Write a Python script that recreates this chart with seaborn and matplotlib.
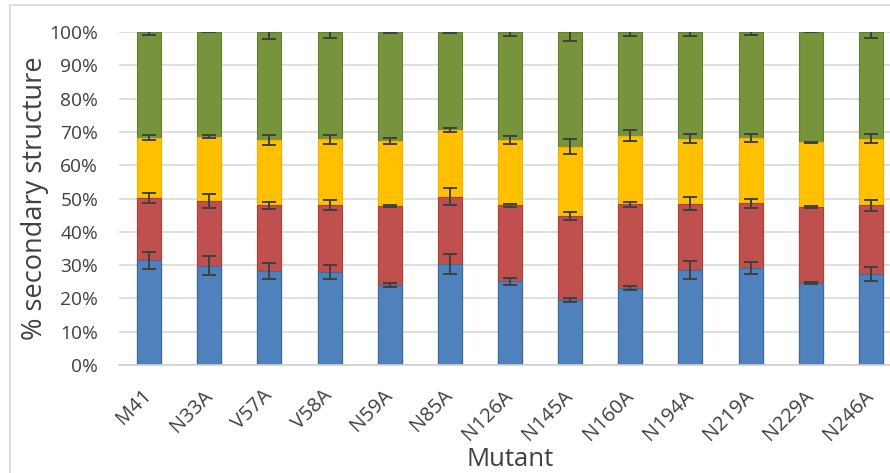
import numpy as np
import matplotlib
matplotlib.use("Agg")
import matplotlib.pyplot as plt
from matplotlib.patches import Rectangle
from matplotlib.ticker import FuncFormatter
import seaborn as sns

# Secondary structure composition per mutant (% of residues)
mutants = ["M41", "N33A", "V57A", "V58A", "N59A", "N85A", "N126A",
           "N145A", "N160A", "N194A", "N219A", "N229A", "N246A"]
helix = [31.4, 29.8, 28.1, 27.8, 23.9, 30.3, 25.1, 19.5, 23.1, 28.6, 29.2, 24.6, 27.3]
sheet = [18.7, 19.5, 19.8, 20.1, 23.7, 20.3, 22.8, 25.3, 25.1, 19.8, 19.3, 22.8, 20.6]
turn = [18.2, 19.3, 19.6, 19.9, 19.8, 19.9, 19.7, 20.8, 20.7, 19.6, 19.6, 19.5, 20.1]
coil = [31.7, 31.4, 32.5, 32.2, 32.6, 29.5, 32.4, 34.4, 31.1, 32.0, 31.9, 33.1, 32.0]

# standard deviations
helix_sd = [2.5, 2.8, 2.4, 2.1, 0.6, 3.0, 1.0, 0.5, 0.7, 2.65, 1.75, 0.2, 2.2]
sheet_sd = [1.6, 2.1, 1.0, 1.5, 0.3, 2.6, 0.5, 1.15, 0.8, 2.0, 1.3, 0.2, 1.7]
turn_sd = [0.65, 0.5, 1.45, 1.35, 0.9, 0.55, 1.1, 2.3, 1.6, 1.25, 1.15, 0.2, 1.35]
coil_sd = [0.8, 0.1, 2.0, 1.7, 0.2, 0.2, 1.2, 2.8, 1.1, 1.2, 0.9, 0.1, 1.8]

colors = ["#4F81BD", "#C0504D", "#FFC000", "#77933C"]
edges = ["#3A6BA5", "#A8403D", "#F0B400", "#62802C"]

sns.set_style("white")
plt.rcParams["font.family"] = ["Open Sans", "DejaVu Sans"]
text_color = "#404040"

fig = plt.figure(figsize=(8.9, 4.73), dpi=100)
ax = fig.add_axes([119 / 890, 1 - 365 / 473, 782 / 890, 333 / 473])

# stacked bars: draw cumulative totals from the top segment down
segments = [helix, sheet, turn, coil]
errs = [helix_sd, sheet_sd, turn_sd, coil_sd]
cum = np.cumsum(np.array(segments), axis=0)

for i in range(3, -1, -1):
    sns.barplot(x=mutants, y=cum[i], color=colors[i], saturation=1,
                width=0.4, edgecolor=edges[i], linewidth=0.8, ax=ax, zorder=2)

x = np.arange(len(mutants))
for i in range(4):
    ax.errorbar(x, cum[i], yerr=errs[i], fmt="none", ecolor="#404040",
                elinewidth=1.4, capsize=5, capthick=1.4, zorder=5)

ax.set_ylim(0, 100)
ax.set_xlim(-0.5, len(mutants) - 0.5)
ax.set_yticks(np.arange(0, 101, 10))
ax.yaxis.set_major_formatter(FuncFormatter(lambda v, p: f"{v:.0f}%"))
ax.yaxis.grid(True, color="#d9d9d9", linewidth=1.2, zorder=0)
ax.set_axisbelow(True)
for s in ["top", "right", "left"]:
    ax.spines[s].set_visible(False)
ax.spines["bottom"].set_color("#d0d0d0")
ax.spines["bottom"].set_linewidth(1.2)

ax.tick_params(axis="y", length=0, labelsize=13.8, colors=text_color, pad=15)
ax.tick_params(axis="x", length=0, labelsize=14.5, colors=text_color, pad=20)
plt.setp(ax.get_xticklabels(), rotation=45, ha="right", va="center",
         rotation_mode="anchor")

ax.set_xlabel("Mutant", fontsize=18.5, color=text_color)
ax.set_ylabel("% secondary structure", fontsize=19.5, color=text_color)
ax.xaxis.set_label_coords(0.5, -0.246)
ax.yaxis.set_label_coords(-0.089, 0.5)

# chart frame
fig.patches.append(Rectangle((10 / 890, -0.1), 1.0, (468 / 473) + 0.1,
                             transform=fig.transFigure, fill=False,
                             edgecolor="#d9d9d9", linewidth=1.2))

fig.savefig("out.png", dpi=100)
